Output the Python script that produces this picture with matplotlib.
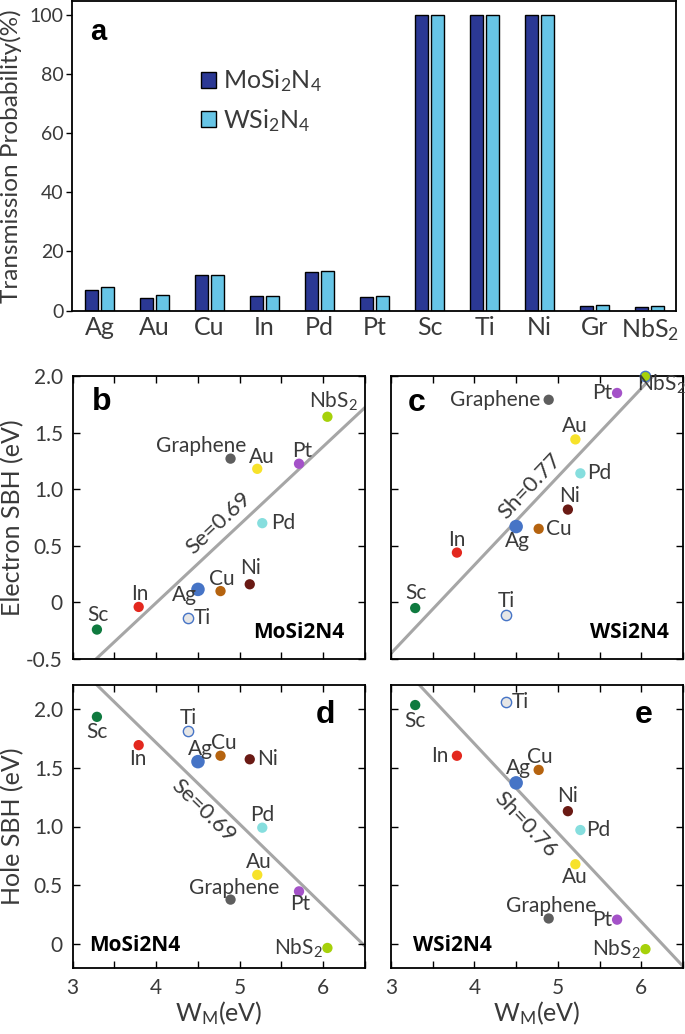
import numpy as np
import matplotlib
matplotlib.use("Agg")
import matplotlib.pyplot as plt
from matplotlib.patches import Patch

plt.rcParams['font.family'] = ['Lato', 'DejaVu Sans']
plt.rcParams['mathtext.fontset'] = 'custom'
plt.rcParams['mathtext.rm'] = 'Lato'
plt.rcParams['mathtext.it'] = 'Lato:italic'
plt.rcParams['axes.linewidth'] = 1.3

# ---- panel a: transmission probability ----
categories = ['Ag', 'Au', 'Cu', 'In', 'Pd', 'Pt', 'Sc', 'Ti', 'Ni', 'Gr', 'NbS$_2$']
trans_mo = [6.9, 4.4, 11.9, 5.0, 12.9, 4.7, 100, 100, 100, 1.4, 1.2]
trans_w = [8.0, 5.3, 11.9, 5.0, 13.3, 4.8, 100, 100, 100, 1.7, 1.4]

# ---- panels b-e: Schottky barrier heights ----
metals = ['Sc', 'In', 'Ag', 'Ti', 'Cu', 'Ni', 'Pd', 'Au', 'Pt', 'Graphene', 'NbS2']
metal_labels = ['Sc', 'In', 'Ag', 'Ti', 'Cu', 'Ni', 'Pd', 'Au', 'Pt', 'Graphene', 'NbS$_2$']
work_fn = [3.29, 3.79, 4.50, 4.38, 4.77, 5.12, 5.27, 5.21, 5.71, 4.89, 6.05]
e_sbh_mo = [-0.24, -0.04, 0.115, -0.135, 0.10, 0.16, 0.70, 1.18, 1.225, 1.27, 1.64]
e_sbh_w = [-0.05, 0.44, 0.67, -0.11, 0.65, 0.82, 1.14, 1.44, 1.85, 1.79, 2.0]
h_sbh_mo = [1.93, 1.69, 1.55, 1.81, 1.60, 1.57, 0.99, 0.59, 0.45, 0.38, -0.03]
h_sbh_w = [2.03, 1.60, 1.37, 2.06, 1.48, 1.13, 0.97, 0.68, 0.21, 0.22, -0.04]

# linear fits (intercept, slope) and slope labels
fit_b = (-2.763, 0.69)
fit_c = (-2.79, 0.78)
fit_d = (4.470, -0.69)
fit_e = (4.722, -0.755)

colors = {'Sc': '#0f7a3f', 'In': '#e3281e', 'Ag': '#4674c6', 'Ti': '#e6e6e6',
          'Cu': '#b5630f', 'Ni': '#6a1a14', 'Pd': '#86dede', 'Au': '#f7e22a',
          'Pt': '#a452c8', 'Graphene': '#5e5e5e', 'NbS2': '#a6d10a'}

W = 685
H = 1034
fig = plt.figure(figsize=(W / 100, H / 100), dpi=100)


def px_axes(left, top, right, bottom):
    return fig.add_axes([left / W, 1 - bottom / H, (right - left) / W, (bottom - top) / H])


TXT = '#3a3a3a'

# ---------------- panel a ----------------
ax = px_axes(72, 1, 676, 310.5)
x = np.arange(len(categories))
ax.bar(x - 0.142, trans_mo, 0.23, color='#2b3894', edgecolor='black', linewidth=1.0)
ax.bar(x + 0.142, trans_w, 0.23, color='#67c5e6', edgecolor='black', linewidth=1.0)
ax.set_xlim(-0.5, 10.48)
ax.set_ylim(0, 104.8)
ax.set_xticks(x)
ax.set_xticklabels(categories, fontsize=18, color=TXT)
ax.tick_params(axis='x', length=0, pad=4)
ax.set_yticks(np.arange(0, 101, 20))
ax.tick_params(axis='y', direction='out', length=4, width=1, pad=2, labelsize=14, labelcolor=TXT)
ax.set_ylabel('Transmission Probability(%)', fontsize=17.5, color=TXT, va='center')
ax.yaxis.set_label_coords(-0.101, 0.5)
ax.text(0.043, 0.90, 'a', transform=ax.transAxes, fontsize=21, fontweight='bold',
        family='Liberation Sans', ha='center', va='center')
handles = [Patch(facecolor='#2b3894', edgecolor='black', label='MoSi$_2$N$_4$'),
           Patch(facecolor='#67c5e6', edgecolor='black', label='WSi$_2$N$_4$')]
ax.legend(handles=handles, loc='upper left', bbox_to_anchor=(0.213, 0.785), frameon=False,
          fontsize=18, handlelength=0.6, handleheight=0.6, handletextpad=0.3,
          labelspacing=0.5, borderaxespad=0, borderpad=0, labelcolor=TXT)

# ---------------- scatter panels ----------------
label_pos = {
    'b': {'NbS2': (6, 15, 'center'), 'Graphene': (-29, 13, 'center'), 'Au': (5, 12, 'center'),
          'Pt': (3, 13, 'center'), 'Pd': (9, 0, 'left'), 'Ni': (1, 16, 'center'),
          'Cu': (1, 12, 'center'), 'Ag': (-14, -6, 'center'), 'In': (1, 13, 'center'),
          'Ti': (6, 0, 'left'), 'Sc': (1, 15, 'center')},
    'c': {'Graphene': (-8, 0, 'right'), 'Pt': (-5, 0, 'right'), 'NbS2': (-8, -8, 'left'),
          'Au': (-1, 13, 'center'), 'Pd': (7, 0, 'left'), 'Ni': (2, 14, 'center'),
          'Cu': (7, 0, 'left'), 'Ag': (1, -14, 'center'), 'In': (0, 13, 'center'),
          'Sc': (1, 15, 'center'), 'Ti': (0, 14, 'center')},
    'd': {'Sc': (0, -15, 'center'), 'Ti': (0, 13, 'center'), 'In': (-1, -14, 'center'),
          'Ag': (2, 13, 'center'), 'Cu': (3, 13, 'center'), 'Ni': (7, 0, 'left'),
          'Pd': (0, 13, 'center'), 'Au': (2, 13, 'center'), 'Graphene': (4, 12, 'center'),
          'Pt': (1, -13, 'center'), 'NbS2': (-5, 0, 'right')},
    'e': {'Sc': (0, -16, 'center'), 'Ti': (6, 0, 'left'), 'In': (-8, 0, 'right'),
          'Cu': (1, 13, 'center'), 'Ag': (2, 15, 'center'), 'Ni': (0, 15, 'center'),
          'Pd': (6, 0, 'left'), 'Au': (-1, -13, 'center'), 'Graphene': (2, 12, 'center'),
          'Pt': (-5, 0, 'right'), 'NbS2': (-5, 0, 'right')},
}


def sbh_panel(box, yvals, fit, fit_text, text_xy, letter, letter_xy, material, mat_xy,
              ylim, yticks, ylabels, show_x, ylabel):
    ax = px_axes(*box)
    ax.set_xlim(3, 6.5)
    ax.set_ylim(*ylim)
    xs = np.array([3, 6.5])
    ax.plot(xs, fit[0] + fit[1] * xs, color='#a6a6a6', lw=2.2, zorder=1)
    for m, lab, xv, yv in zip(metals, metal_labels, work_fn, yvals):
        size = 95 if m == 'Ag' else 55
        edge = '#4674c6' if m == 'Ti' else 'none'
        if m == 'NbS2' and letter == 'c':
            edge = '#4674c6'
        ax.scatter(xv, yv, s=size, color=colors[m], edgecolors=edge, linewidths=1.0,
                   zorder=3, clip_on=False)
        dx, dy, ha = label_pos[letter][m]
        ax.annotate(lab, (xv, yv), xytext=(dx * 0.72, dy * 0.72), textcoords='offset points',
                    ha=ha, va='center', fontsize=15, color=TXT)
    ang = np.degrees(np.arctan(fit[1]))
    ax.text(text_xy[0], text_xy[1], fit_text, fontsize=16, color=TXT, rotation=ang,
            transform_rotates_text=True, rotation_mode='anchor', ha='center', va='center')
    ax.text(letter_xy[0], letter_xy[1], letter, transform=ax.transAxes, fontsize=23,
            fontweight='bold', family='Liberation Sans', ha='center', va='center')
    ax.text(mat_xy[0], mat_xy[1], material, transform=ax.transAxes, fontsize=15,
            fontweight='bold', family='Open Sans', ha='center', va='center')
    ax.set_xticks(np.arange(3, 6.51, 0.5))
    if show_x:
        ax.set_xticklabels(['3', '', '4', '', '5', '', '6', ''])
        ax.set_xlabel('W$_\\mathrm{M}$(eV)', fontsize=18, color=TXT, labelpad=1)
    else:
        ax.set_xticklabels([])
    ax.set_yticks(yticks)
    if ylabels is not None:
        ax.set_yticklabels(ylabels)
        ax.set_ylabel(ylabel, fontsize=18, color=TXT, va='center')
        ax.yaxis.set_label_coords(-0.206, 0.5)
    else:
        ax.set_yticklabels([])
    ax.tick_params(direction='in', length=5, width=1, top=True, right=True,
                   labelsize=15, labelcolor=TXT, pad=7)
    return ax


e_ticks = [-0.5, 0, 0.5, 1.0, 1.5, 2.0]
e_labels = ['-0.5', '0', '0.5', '1.0', '1.5', '2.0']
h_ticks = [0, 0.5, 1.0, 1.5, 2.0]
h_labels = ['0', '0.5', '1.0', '1.5', '2.0']

sbh_panel((72.7, 376, 365, 659), e_sbh_mo, fit_b, 'Se=0.69', (4.75, 0.70), 'b', (0.10, 0.908),
          'MoSi2N4', (0.774, 0.095), (-0.5, 2.0), e_ticks, e_labels, False, 'Electron SBH (eV)')
sbh_panel((391, 376, 683, 659), e_sbh_w, fit_c, 'Sh=0.77', (4.66, 1.03), 'c', (0.089, 0.905),
          'WSi2N4', (0.818, 0.095), (-0.5, 2.0), e_ticks, None, False, '')
sbh_panel((72.7, 685, 365, 968), h_sbh_mo, fit_d, 'Se=0.69', (4.56, 1.13), 'd', (0.863, 0.894),
          'MoSi2N4', (0.213, 0.081), (-0.2, 2.2), h_ticks, h_labels, True, 'Hole SBH (eV)')
sbh_panel((391, 685, 683, 968), h_sbh_w, fit_e, 'Sh=0.76', (4.61, 1.02), 'e', (0.866, 0.894),
          'WSi2N4', (0.209, 0.078), (-0.2, 2.2), h_ticks, None, True, '')

fig.savefig('out.png', dpi=100)
